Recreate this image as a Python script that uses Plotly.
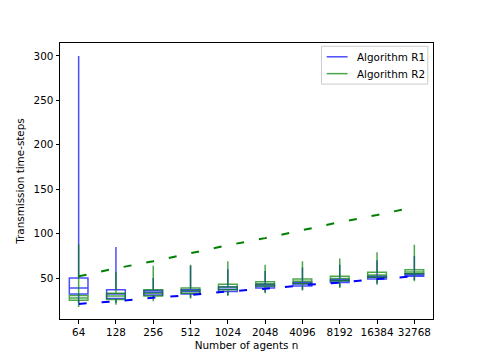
import plotly.graph_objects as go

# agent counts (categories on the x axis)
n_labels = ["64", "128", "256", "512", "1024", "2048", "4096", "8192", "16384", "32768"]
pos = list(range(1, len(n_labels) + 1))

# Algorithm R1 box stats
r1_lo = [22, 22, 27, 28, 31, 34, 37, 40, 44, 48]
r1_q1 = [32, 27, 31, 32, 35, 39, 41, 45, 49, 52]
r1_med = [39, 32, 34, 35, 37.5, 41, 43.5, 47, 51, 53.5]
r1_q3 = [50, 37, 36, 37, 40, 43, 45, 48.5, 52, 55]
r1_hi = [300, 85, 50, 64, 60, 58, 62, 65, 70, 75]

# Algorithm R2 box stats
r2_lo = [17.5, 20, 24, 27, 30, 33, 36, 39, 42.5, 46.5]
r2_q1 = [25, 26, 30, 33, 37, 41, 44, 47, 51, 55]
r2_med = [27.6, 30, 33, 36, 40, 43.5, 46.5, 49.5, 53.5, 57]
r2_q3 = [30.5, 33, 37, 39, 43, 46, 49, 52, 56.5, 59.5]
r2_hi = [88, 57, 64, 65, 69, 65, 69, 72, 79, 87.5]

# dashed reference curves
r1_bound = [21, 24, 28, 31, 35, 38, 42, 45, 49, 52]
r2_bound = [52, 61, 69, 78, 87, 95, 104, 113, 121, 130]

FONT = dict(family="DejaVu Sans", size=10.4, color="black")
R1_COL = "rgba(0,0,255,0.7)"
R2_COL = "rgba(0,128,0,0.7)"

fig = go.Figure()

for col, lo, q1, med, q3, hi in [
    (R1_COL, r1_lo, r1_q1, r1_med, r1_q3, r1_hi),
    (R2_COL, r2_lo, r2_q1, r2_med, r2_q3, r2_hi),
]:
    fig.add_trace(go.Box(
        x=pos, q1=q1, median=med, q3=q3, lowerfence=lo, upperfence=hi,
        width=0.5, whiskerwidth=0, boxpoints=False,
        line=dict(color=col, width=1.5), fillcolor="rgba(0,0,0,0)",
        showlegend=False, hoverinfo="skip",
    ))

fig.add_trace(go.Scatter(x=pos, y=r1_bound, mode="lines", showlegend=False,
                         line=dict(color="blue", width=2, dash="8px,15px")))
fig.add_trace(go.Scatter(x=pos, y=r2_bound, mode="lines", showlegend=False,
                         line=dict(color="green", width=2, dash="8px,15px")))

# matplotlib-style legend drawn by hand
fig.add_shape(type="rect", xref="paper", yref="paper", x0=0.701, x1=0.986,
              y0=0.851, y1=0.988, line=dict(color="#cccccc", width=1),
              fillcolor="rgba(255,255,255,0.8)")
for y, col, name in [(0.950, R1_COL, "Algorithm R1"), (0.889, R2_COL, "Algorithm R2")]:
    fig.add_shape(type="line", xref="paper", yref="paper", x0=0.715, x1=0.771,
                  y0=y, y1=y, line=dict(color=col, width=1.5))
    fig.add_annotation(xref="paper", yref="paper", x=0.791, y=y, text=name,
                       showarrow=False, xanchor="left", yanchor="middle", font=FONT)

axis = dict(showline=True, linecolor="black", linewidth=1, mirror=True,
            showgrid=False, zeroline=False, ticks="outside", ticklen=3.5,
            tickwidth=0.8, tickcolor="black", tickfont=FONT)

fig.update_layout(
    width=474, height=353,
    margin=dict(l=52, r=49, t=35, b=40),
    paper_bgcolor="white", plot_bgcolor="white",
    font=FONT, boxmode="overlay", showlegend=False,
    xaxis=dict(axis, range=[0.5, 10.5], tickvals=pos, ticktext=n_labels,
               title=dict(text="Number of agents n", font=FONT, standoff=4)),
    yaxis=dict(axis, range=[4, 314.6], tickvals=[50, 100, 150, 200, 250, 300],
               title=dict(text="Transmission time-steps", font=FONT, standoff=6)),
)

fig.write_html("out.html")
